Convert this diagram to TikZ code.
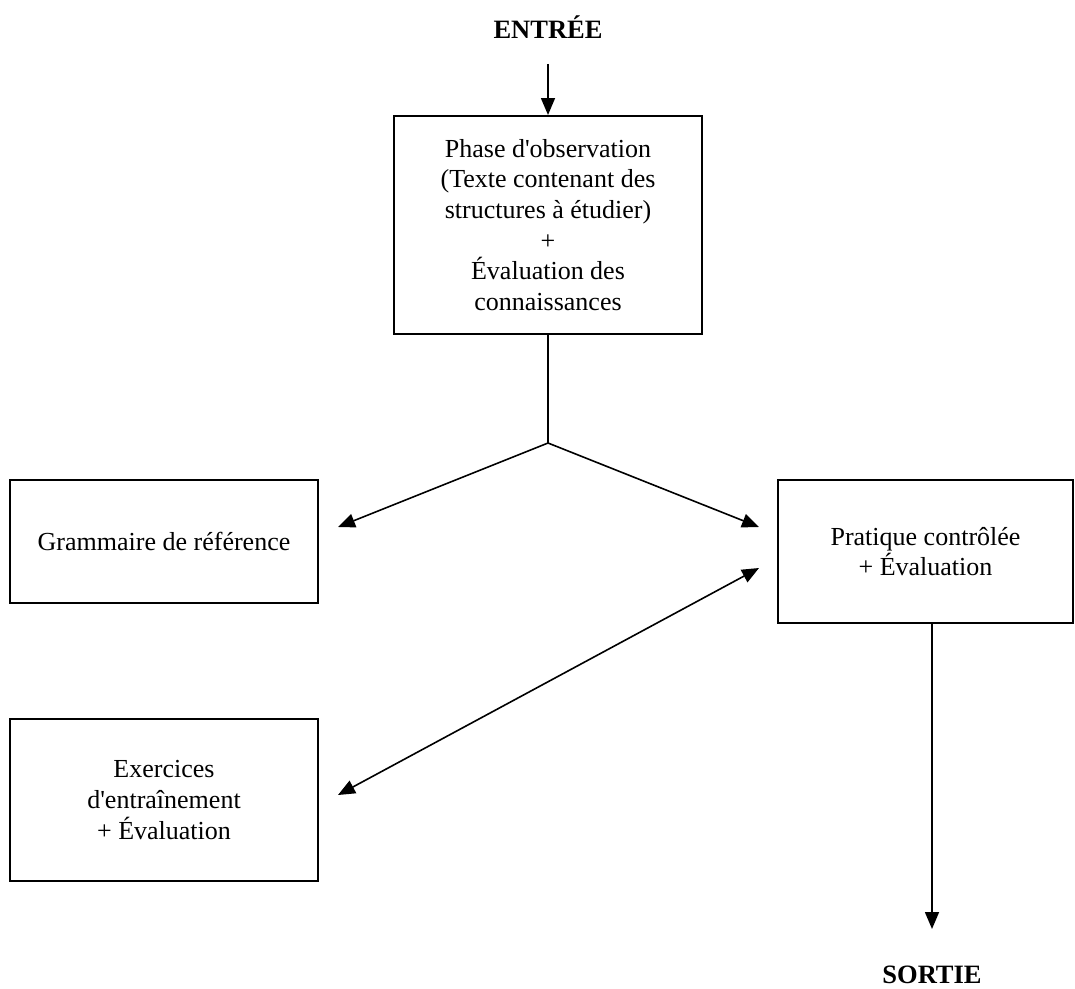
\documentclass[tikz,border=0pt]{standalone}
\usepackage{fontspec}
\setmainfont{Liberation Serif}[Ligatures=TeXOff]
\usetikzlibrary{arrows.meta}
\begin{document}
\begin{tikzpicture}[x=1pt,y=-1pt,
  boite/.style={draw=black,line width=2pt,align=center,inner sep=0,font=\fontsize{26}{30.7}\selectfont},
  fleche/.style={line width=1.6pt,-{Triangle[length=17pt,width=14pt]}},
  titre/.style={font=\fontsize{26.5}{30}\selectfont\bfseries}]
  \useasboundingbox (0,0) rectangle (1075,988);
  \node [titre] (entree) at (548,27) {ENTRÉE};
  \node [boite,minimum width=308pt,minimum height=218pt] (obs) at (548,225)
    {Phase d'observation\\(Texte contenant des\\structures à étudier)\\+\\Évaluation des\\connaissances};
  \node [boite,minimum width=308pt,minimum height=123pt] (gram) at (164,541.5) {Grammaire de référence};
  \node [boite,minimum width=295pt,minimum height=143pt] (prat) at (925.5,551.5) {Pratique contrôlée\\+ Évaluation};
  \node [boite,minimum width=308pt,minimum height=162pt] (exer) at (164,800) {Exercices\\d'entraînement\\+ Évaluation};
  \node [titre] (sortie) at (932,975) {SORTIE};
  \coordinate (jonction) at (548,443);
  \coordinate (gfin) at (338,527);
  \coordinate (pfin) at (759,527);
  \coordinate (pdeb) at (759,568);
  \coordinate (efin) at (338,795);
  \coordinate (sfin) at (932,929);
  % liaisons
  \draw[fleche] ([yshift=-22pt]entree.south) -- (obs.north);
  \draw[line width=1.6pt] (obs.south) -- (jonction);
  \draw[fleche] (jonction) -- (gfin);
  \draw[fleche] (jonction) -- (pfin);
  \draw[fleche,{Triangle[length=17pt,width=14pt]}-{Triangle[length=17pt,width=14pt]}] (efin) -- (pdeb);
  \draw[fleche] ([xshift=6.5pt]prat.south) -- (sfin);
\end{tikzpicture}
\end{document}
